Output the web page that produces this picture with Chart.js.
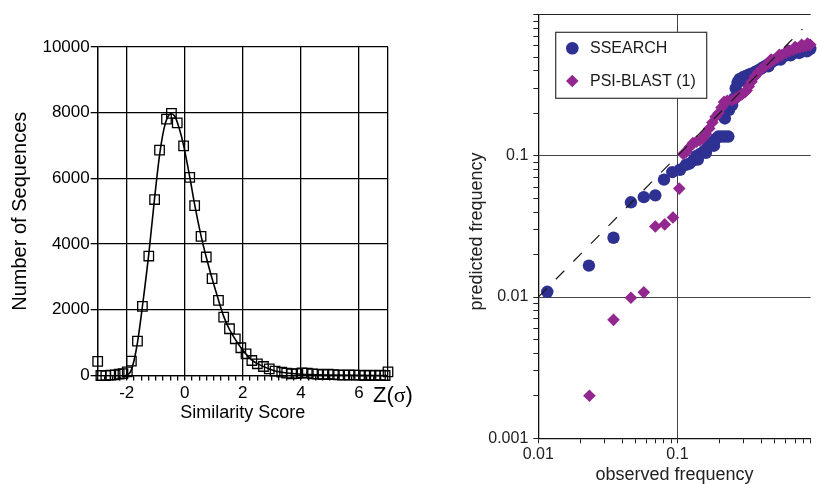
<!DOCTYPE html>
<html>
<head>
<meta charset="utf-8">
<title>Similarity score distribution and predicted vs observed frequency</title>
<script src="https://cdn.jsdelivr.net/npm/chart.js@4.4.1/dist/chart.umd.min.js"></script>
<style>
  html, body { margin: 0; padding: 0; background: #fff; overflow: hidden; }
  #left { position: absolute; left: 0; top: 0; }
  #right { position: absolute; left: 440px; top: 0; }
</style>
</head>
<body>
<canvas id="left" width="440" height="484"></canvas>
<canvas id="right" width="377" height="484"></canvas>
<script>
// ---- left panel: distribution of similarity scores ----
var scoreX = [-3.0, -2.89, -2.72, -2.55, -2.40, -2.26, -2.13, -1.98, -1.84, -1.63,
              -1.46, -1.24, -1.04, -0.87, -0.63, -0.46, -0.26, -0.04, 0.17, 0.34,
              0.56, 0.74, 0.94, 1.16, 1.34, 1.54, 1.74, 1.93, 2.11, 2.31,
              2.50, 2.71, 2.91, 3.11, 3.34, 3.51, 3.68, 3.86, 4.04, 4.22,
              4.40, 4.58, 4.76, 4.94, 5.12, 5.30, 5.48, 5.66, 5.84, 6.02,
              6.20, 6.38, 6.56, 6.74, 6.90, 7.00];
var scoreCount = [430, 0, 0, 10, 20, 40, 60, 110, 436, 1046,
                  2104, 3637, 5357, 6860, 7805, 7979, 7692, 6991, 6030, 5173,
                  4237, 3607, 2950, 2287, 1778, 1423, 1118, 845, 661, 457,
                  357, 274, 204, 131, 100, 70, 52, 60, 80, 70,
                  50, 40, 30, 40, 30, 20, 10, 20, 10, 10,
                  0, 10, 0, 10, 0, 110];
var fitX = [-2.05, -1.95, -1.85, -1.75, -1.63, -1.46, -1.24, -1.04, -0.87, -0.72,
            -0.60, -0.47, -0.35, -0.20, -0.04, 0.17, 0.34, 0.56, 0.74, 0.94,
            1.16, 1.34, 1.54, 1.74, 1.93, 2.11, 2.31, 2.50, 2.71, 2.91,
            3.11, 3.34, 3.60, 4.00, 4.50, 5.00, 6.00, 7.00];
var fitY = [0, 30, 150, 450, 1000, 2100, 3700, 5400, 6700, 7500,
            7850, 7970, 7900, 7550, 7000, 6050, 5200, 4250, 3600, 2950,
            2300, 1800, 1400, 1100, 850, 650, 470, 360, 270, 200,
            140, 100, 70, 40, 25, 15, 5, 0];
var scoreTickLabels = [-2, 0, 2, 4, 6];

// ---- right panel: predicted vs observed frequency ----
var ssearchObs = [0.0116, 0.0231, 0.0347, 0.0463, 0.0573, 0.0693, 0.080, 0.0917, 0.1043, 0.115,
                  0.122, 0.130, 0.137, 0.145, 0.155, 0.163, 0.170, 0.178, 0.187, 0.197,
                  0.208, 0.220, 0.232, 0.219, 0.235, 0.247, 0.255, 0.262, 0.270, 0.280,
                  0.295, 0.310, 0.324, 0.340, 0.360, 0.380, 0.400, 0.420, 0.445, 0.470,
                  0.500, 0.530, 0.556, 0.590, 0.620, 0.660, 0.700, 0.726, 0.760, 0.800,
                  0.840, 0.880, 0.900, 0.140, 0.160, 0.183, 0.275, 0.300, 0.350, 0.450,
                  0.550, 0.650, 0.750, 0.850];
var ssearchPred = [0.0109, 0.0167, 0.0263, 0.0469, 0.051, 0.0525, 0.0678, 0.0767, 0.0797, 0.0864,
                   0.088, 0.093, 0.100, 0.103, 0.108, 0.113, 0.119, 0.125, 0.131, 0.137,
                   0.137, 0.137, 0.137, 0.184, 0.212, 0.229, 0.255, 0.300, 0.330, 0.350,
                   0.360, 0.368, 0.375, 0.382, 0.392, 0.403, 0.415, 0.428, 0.443, 0.458,
                   0.474, 0.487, 0.498, 0.510, 0.520, 0.530, 0.538, 0.543, 0.550, 0.556,
                   0.562, 0.568, 0.572, 0.094, 0.105, 0.118, 0.335, 0.345, 0.370, 0.430,
                   0.480, 0.515, 0.535, 0.550];
var psiObs = [0.0233, 0.0347, 0.0463, 0.0573, 0.0693, 0.081, 0.0928, 0.103,
              0.110, 0.116, 0.122, 0.129, 0.137, 0.145, 0.152, 0.160, 0.169, 0.178, 0.188, 0.197,
              0.207, 0.216, 0.228, 0.247, 0.262, 0.275, 0.290, 0.305, 0.314, 0.325,
              0.340, 0.360, 0.380, 0.400, 0.430, 0.460, 0.490, 0.520, 0.560, 0.600,
              0.640, 0.680, 0.720, 0.760, 0.800, 0.840, 0.880, 0.900,
              0.470, 0.540, 0.620, 0.700, 0.780, 0.860];
var psiPred = [0.0020, 0.0069, 0.0099, 0.0108, 0.0316, 0.0327, 0.0366, 0.0586,
               0.103, 0.107, 0.115, 0.123, 0.126, 0.129, 0.133, 0.143, 0.156, 0.172, 0.189, 0.200,
               0.220, 0.241, 0.245, 0.248, 0.255, 0.262, 0.272, 0.282, 0.290, 0.310,
               0.335, 0.365, 0.390, 0.410, 0.435, 0.455, 0.475, 0.495, 0.515, 0.535,
               0.552, 0.565, 0.578, 0.588, 0.596, 0.603, 0.610, 0.612,
               0.480, 0.520, 0.560, 0.590, 0.612, 0.625];
var diagonal = [0.01, 0.79];
var decades = [0.001, 0.01, 0.1, 1];
var freqLabels = [0.001, 0.01, 0.1];

var BLUE = '#2e3192';
var PURPLE = '#92278f';

Chart.defaults.font.family = "'Liberation Sans', Arial, Helvetica, sans-serif";
Chart.defaults.color = '#000';

function pairs(xs, ys) {
    return xs.map(function (x, i) { return {x: x, y: ys[i]}; });
}

function near(a, b) {
    return Math.abs(a - b) < 1e-9 * Math.max(1, Math.abs(b)) + 1e-9;
}

// minor ticks 1..9 in every decade, cut to the axis range
function logTicks(min, max) {
    var out = [];
    decades.forEach(function (d) {
        for (var k = 1; k <= 9; k++) {
            var v = +(d * k).toPrecision(6);
            if (v >= min - 1e-12 && v <= max + 1e-12) out.push({value: v});
        }
    });
    return out;
}

// "Z(σ)" unit mark next to the last x label
var zLabel = {
    id: 'zLabel',
    afterDraw: function (chart) {
        var c = chart.ctx;
        var x = 373, y = 402;
        c.save();
        c.fillStyle = '#000';
        c.textBaseline = 'alphabetic';
        c.font = "22px 'Liberation Sans', Arial, sans-serif";
        c.fillText('Z(', x, y);
        x += c.measureText('Z(').width;
        c.font = "22px 'Liberation Serif', 'Times New Roman', serif";
        c.fillText('σ', x, y);
        x += c.measureText('σ').width;
        c.font = "22px 'Liberation Sans', Arial, sans-serif";
        c.fillText(')', x, y);
        c.restore();
    }
};

new Chart(document.getElementById('left'), {
    type: 'scatter',
    data: {
        datasets: [
            {
                label: 'counts',
                data: pairs(scoreX, scoreCount),
                pointStyle: 'rect',
                pointRadius: 6.7,
                pointBorderWidth: 1.3,
                pointBorderColor: '#000',
                pointBackgroundColor: 'rgba(0,0,0,0)',
                clip: false,
                order: 0
            },
            {
                label: 'fit',
                type: 'line',
                data: pairs(fitX, fitY),
                borderColor: '#000',
                borderWidth: 1.6,
                pointRadius: 0,
                fill: false,
                cubicInterpolationMode: 'monotone',
                clip: false,
                order: 1
            }
        ]
    },
    options: {
        responsive: false,
        animation: false,
        layout: {padding: {left: 0, top: 47, right: 52, bottom: 60}},
        plugins: {legend: {display: false}, tooltip: {enabled: false}},
        scales: {
            x: {
                type: 'linear',
                min: -3,
                max: 7,
                ticks: {
                    stepSize: 0.25,
                    autoSkip: false,
                    maxRotation: 0,
                    padding: 3,
                    font: {size: 17},
                    callback: function (v) {
                        for (var i = 0; i < scoreTickLabels.length; i++) {
                            if (near(v, scoreTickLabels[i])) return String(scoreTickLabels[i]);
                        }
                        return '';
                    }
                },
                grid: {
                    color: function (ctx) {
                        var v = ctx.tick ? ctx.tick.value : 0;
                        var major = near(v, -3) || near(v, 7);
                        scoreTickLabels.forEach(function (t) { if (near(v, t)) major = true; });
                        return major ? '#000' : 'rgba(0,0,0,0)';
                    },
                    lineWidth: 1.3,
                    tickLength: 5,
                    tickColor: '#000',
                    tickWidth: 1.3
                },
                border: {color: '#000', width: 1.3},
                title: {display: true, text: 'Similarity Score', font: {size: 18}, padding: {top: 0, bottom: 0}},
                afterFit: function (s) { s.height = 48.5; }
            },
            y: {
                min: 0,
                max: 10000,
                ticks: {
                    stepSize: 2000,
                    padding: 1,
                    font: {size: 17},
                    callback: function (v) { return String(v); }
                },
                grid: {color: '#000', lineWidth: 1.3, tickLength: 7, tickColor: '#000'},
                border: {color: '#000', width: 1.3},
                title: {display: true, text: 'Number of Sequences', font: {size: 20}, padding: {top: 8, bottom: 0}},
                afterFit: function (s) { s.width = 97.7; }
            }
        }
    },
    plugins: [zLabel]
});

// boxed legend inside the plot
var boxLegend = {
    id: 'boxLegend',
    afterDraw: function (chart) {
        var c = chart.ctx;
        var bx = 115.7, by = 32.3, bw = 151, bh = 66;
        c.save();
        c.fillStyle = '#fff';
        c.fillRect(bx, by, bw, bh);
        c.strokeStyle = '#333';
        c.lineWidth = 1.2;
        c.strokeRect(bx, by, bw, bh);

        c.fillStyle = BLUE;
        c.beginPath();
        c.arc(132.3, 48.3, 6.3, 0, Math.PI * 2);
        c.fill();

        c.fillStyle = PURPLE;
        c.beginPath();
        c.moveTo(132.3 - 6.3, 81);
        c.lineTo(132.3, 81 - 6.3);
        c.lineTo(132.3 + 6.3, 81);
        c.lineTo(132.3, 81 + 6.3);
        c.closePath();
        c.fill();

        c.fillStyle = '#1a1a1a';
        c.font = "16px 'Liberation Sans', Arial, sans-serif";
        c.textBaseline = 'middle';
        c.fillText('SSEARCH', 150, 48.5);
        c.fillText('PSI-BLAST (1)', 150, 81.5);
        c.restore();
    }
};

new Chart(document.getElementById('right'), {
    type: 'scatter',
    data: {
        datasets: [
            {
                label: 'y = x',
                type: 'line',
                data: pairs(diagonal, diagonal),
                borderColor: '#1a1a1a',
                borderWidth: 1.2,
                borderDash: [12, 13],
                pointRadius: 0,
                fill: false,
                clip: false,
                order: 0
            },
            {
                label: 'PSI-BLAST (1)',
                data: pairs(psiObs, psiPred),
                pointStyle: 'rectRot',
                pointRadius: 6.3,
                pointBorderWidth: 0,
                pointBackgroundColor: PURPLE,
                clip: false,
                order: 1
            },
            {
                label: 'SSEARCH',
                data: pairs(ssearchObs, ssearchPred),
                pointStyle: 'circle',
                pointRadius: 6.2,
                pointBorderWidth: 0,
                pointBackgroundColor: BLUE,
                clip: false,
                order: 2
            }
        ]
    },
    options: {
        responsive: false,
        animation: false,
        layout: {padding: {left: 0, top: 12.3, right: 0, bottom: 0}},
        plugins: {legend: {display: false}, tooltip: {enabled: false}},
        scales: {
            x: {
                type: 'logarithmic',
                min: 0.01,
                max: 0.906,
                afterBuildTicks: function (s) { s.ticks = logTicks(0.01, 0.906); },
                ticks: {
                    autoSkip: false,
                    maxRotation: 0,
                    padding: 2,
                    color: '#222',
                    font: {size: 16},
                    callback: function (v) {
                        for (var i = 0; i < freqLabels.length; i++) {
                            if (near(v, freqLabels[i])) return String(freqLabels[i]);
                        }
                        return '';
                    }
                },
                grid: {
                    color: function (ctx) {
                        return ctx.tick && near(ctx.tick.value, 0.1) ? '#444' : 'rgba(0,0,0,0)';
                    },
                    lineWidth: 1,
                    tickLength: 5,
                    tickColor: '#222'
                },
                border: {color: '#111', width: 1.3},
                title: {display: true, text: 'observed frequency', color: '#222', font: {size: 18}, padding: {top: 0, bottom: -2}},
                afterFit: function (s) { s.height = 45.7; }
            },
            y: {
                type: 'logarithmic',
                min: 0.001,
                max: 1,
                afterBuildTicks: function (s) { s.ticks = logTicks(0.001, 1); },
                ticks: {
                    autoSkip: false,
                    padding: 5,
                    color: '#222',
                    font: {size: 16},
                    callback: function (v) {
                        for (var i = 0; i < freqLabels.length; i++) {
                            if (near(v, freqLabels[i])) return String(freqLabels[i]);
                        }
                        return '';
                    }
                },
                grid: {
                    color: function (ctx) {
                        if (!ctx.tick) return 'rgba(0,0,0,0)';
                        var v = ctx.tick.value;
                        if (near(v, 1)) return '#222';
                        return near(v, 0.01) || near(v, 0.1) ? '#444' : 'rgba(0,0,0,0)';
                    },
                    lineWidth: 1,
                    tickLength: 5,
                    tickColor: '#222'
                },
                border: {color: '#111', width: 1.3},
                // trailing spaces nudge the centred title a little lower, as in the original
                title: {display: true, text: 'predicted frequency  ', color: '#222', font: {size: 18}, padding: {top: 26, bottom: 0}},
                afterFit: function (s) { s.width = 98.3; }
            }
        }
    },
    plugins: [boxLegend]
});
</script>
</body>
</html>
